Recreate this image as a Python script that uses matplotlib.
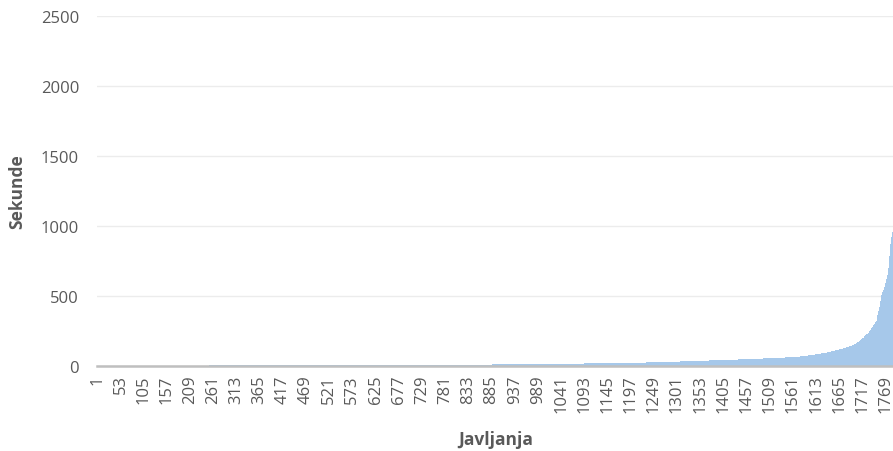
import numpy as np
import matplotlib
matplotlib.use("Agg")
import matplotlib.pyplot as plt

# Sorted durations (seconds) stored as a frequency table for small values
low_values = list(range(1, 100))
low_counts = (
    [60, 90, 100, 100, 100, 100, 95, 90, 80, 70]                      # 1-10
    + [34, 32, 31, 29, 28, 27, 25, 24, 22, 21, 19, 17]                # 11-22
    + [13, 13, 12, 12, 11, 11, 11, 10, 10, 10, 10, 10, 9, 9, 9, 8]    # 23-38
    + [10, 10, 10, 9, 9, 9, 9, 9, 9, 8, 8, 8, 8, 8, 8, 8, 8, 7, 7, 7] # 39-58
    + [6, 6, 5, 5, 5, 5, 5, 4, 4]                                     # 59-67
    + [3, 3, 3, 2, 2, 2, 2, 2, 2, 2, 2, 2, 2, 1]                      # 68-81
    + [3, 2, 2, 2, 2, 2, 2, 2, 2, 2, 2, 2, 2, 2, 2, 2, 2, 1]          # 82-99
)
# Largest durations, listed one by one (sorted)
tail_values = [
    100, 101, 102, 103, 104, 104, 105, 106, 107, 108, 109, 110, 110, 111, 112,
    113, 114, 115, 116, 117, 117, 118, 119, 120, 121, 122, 122, 123, 124, 125, 126,
    127, 128, 129, 130, 131, 132, 133, 134, 135, 136, 137, 138, 139, 140, 141,
    142, 143, 144, 145, 147, 148, 150,
    152, 153, 155, 156, 158, 160, 161, 163, 165, 167, 169, 171, 173, 175, 177, 179,
    182, 185, 188, 191, 194, 197, 200, 203, 206, 210, 214,
    217, 220, 223, 226, 229, 232, 236, 239, 243, 246, 250,
    255, 260, 265, 270, 275, 280, 285, 290,
    294, 298, 302, 306, 311, 316, 321,
    335, 348, 362, 376, 390, 405,
    424, 443, 462, 481, 500,
    510, 518, 526, 535, 544, 553, 562, 571,
    583, 596, 610, 624, 638, 652, 667,
    700, 730, 760, 786,
    830, 870, 905,
    925, 940, 958, 976,
    1000, 1030, 1070, 1110, 1150,
]

y_ticks = [0, 500, 1000, 1500, 2000, 2500]
x_tick_step = 52
x_label = "Javljanja"
y_label = "Sekunde"

values = np.concatenate([np.repeat(low_values, low_counts), np.array(tail_values)])
n = len(values)
idx = np.arange(1, n + 1)

plt.rcParams['font.family'] = ['Open Sans', 'DejaVu Sans']
fig = plt.figure(figsize=(8.93, 4.52), dpi=100)
W, H = 893, 452
left_px, right_px = 97.1, 97.1 + n * 0.4459
top_px, bottom_px = 17, 367
ax = fig.add_axes([left_px / W, 1 - bottom_px / H, (right_px - left_px) / W, (bottom_px - top_px) / H])

ax.bar(idx, values, width=1.0, color='#a6c8ea', edgecolor='none', linewidth=0, zorder=2)

ax.set_xlim(0.5, n + 0.5)
ax.set_ylim(0, 2500)
ax.set_yticks(y_ticks)
ax.set_yticklabels([str(v) for v in y_ticks])
xt = list(range(1, n + 1, x_tick_step))
ax.set_xticks(xt)
ax.set_xticklabels([str(v) for v in xt], rotation=90)

ax.grid(axis='y', color='#ececec', linewidth=1.0, zorder=0)
ax.set_axisbelow(True)
for s in ['top', 'right', 'left']:
    ax.spines[s].set_visible(False)
ax.spines['bottom'].set_color('#bfbfbf')
ax.spines['bottom'].set_linewidth(1.8)
ax.spines['bottom'].set_zorder(3)

ax.tick_params(axis='both', length=0, labelsize=12, labelcolor='#595959')
ax.tick_params(axis='y', pad=13)
ax.tick_params(axis='x', pad=6)

ax.set_xlabel(x_label, fontsize=12.5, fontweight='bold', color='#595959')
ax.set_ylabel(y_label, fontsize=12.5, fontweight='bold', color='#595959')
ax.xaxis.set_label_coords((496 - left_px) / (right_px - left_px), -(440 - bottom_px) / (bottom_px - top_px))
ax.yaxis.set_label_coords(-(left_px - 17) / (right_px - left_px), 0.5)
ax.xaxis.label.set_va('center')
ax.yaxis.label.set_va('center')

fig.savefig('out.png', dpi=100)
